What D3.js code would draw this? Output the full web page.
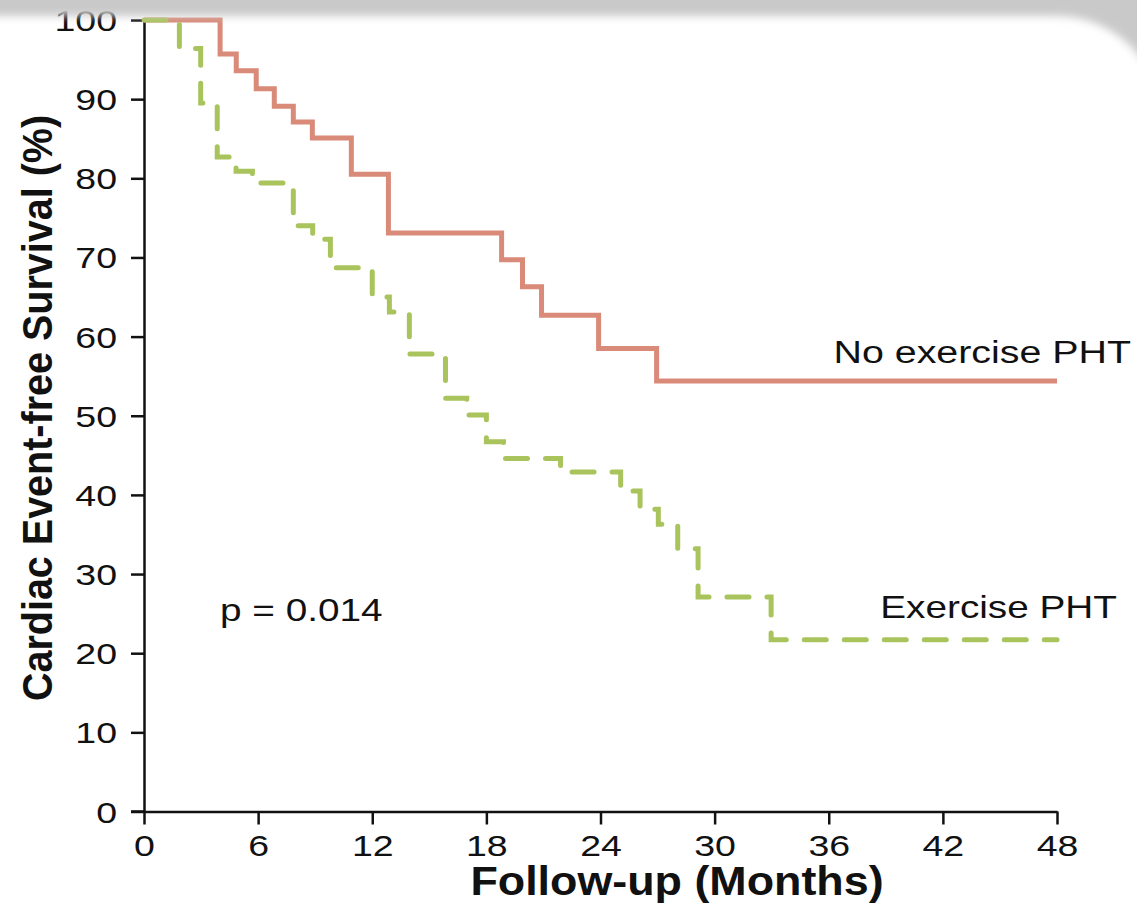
<!DOCTYPE html>
<html>
<head>
<meta charset="utf-8">
<script src="https://cdn.jsdelivr.net/npm/d3@7/dist/d3.min.js"></script>
<style>
  html, body { margin: 0; padding: 0; background: #fff; }
  svg { display: block; }
  text { font-family: "Liberation Sans", Arial, Helvetica, sans-serif; fill: #111; }
</style>
</head>
<body>
<svg id="chart" width="1137" height="903"></svg>
<script>
// Kaplan-Meier step data: follow-up month at which each step starts, and survival (%) from there on
const noExerciseTimes = [0, 4.0, 4.85, 5.9, 6.85, 7.85, 8.85, 10.9, 12.85, 18.8, 19.9, 20.9, 23.9, 26.95];
const noExerciseSurvival = [100, 95.7, 93.6, 91.3, 89.1, 87.1, 85.1, 80.5, 73.1, 69.7, 66.3, 62.7, 58.5, 54.4];
const exerciseTimes = [0, 1.86, 2.98, 3.85, 4.84, 5.7, 7.85, 8.87, 9.8, 12.0, 12.9, 13.95, 15.85, 16.97, 18.0, 18.9, 21.9, 25.06, 26.08, 27.04, 28.06, 29.13, 32.97];
const exerciseSurvival = [100, 96.4, 89.5, 82.7, 80.9, 79.4, 74.0, 72.3, 68.7, 65.0, 63.1, 57.8, 52.2, 50.1, 46.7, 44.6, 42.9, 40.5, 38.2, 36.3, 33.2, 27.1, 21.7];
const followUpEnd = 48;

const xTicks = [0, 6, 12, 18, 24, 30, 36, 42, 48];
const yTicks = [0, 10, 20, 30, 40, 50, 60, 70, 80, 90, 100];

const seriesLabels = ["No exercise PHT", "Exercise PHT"];
const pValueLabel = "p = 0.014";
const xTitle = "Follow-up (Months)";
const yTitle = "Cardiac Event-free Survival (%)";

const svg = d3.select("#chart");
const x = d3.scaleLinear().domain([0, 48]).range([144, 1057]);
const y = d3.scaleLinear().domain([0, 100]).range([811.5, 20]);

const STRETCH = 1.25;   // wide-set regular lettering
const BOLD_STRETCH = 1.08;

// Axes
const yAxis = svg.append("g")
  .attr("transform", `translate(${x(0)},0)`)
  .call(d3.axisLeft(y).tickValues(yTicks).tickSize(13).tickSizeOuter(0).tickFormat(d3.format("d")));
const xAxis = svg.append("g")
  .attr("transform", `translate(0,${y(0)})`)
  .call(d3.axisBottom(x).tickValues(xTicks).tickSize(13).tickSizeOuter(0).tickFormat(d3.format("d")));

[yAxis, xAxis].forEach(g => {
  g.select(".domain").attr("stroke", "#111").attr("stroke-width", 2.5);
  g.selectAll(".tick line").attr("stroke", "#111").attr("stroke-width", 2.5);
  g.selectAll(".tick text").attr("font-size", 30).attr("fill", "#111");
});
yAxis.selectAll(".tick text")
  .attr("x", null).attr("dy", null)
  .attr("transform", `translate(-27,10.5) scale(${STRETCH},1)`);
xAxis.selectAll(".tick text")
  .attr("y", null).attr("dy", null)
  .attr("transform", `translate(0,44) scale(${STRETCH},1)`);
// the x axis line reaches back to the 0 tick on the y axis
xAxis.append("line")
  .attr("x1", x(0) - 13).attr("x2", x(0))
  .attr("stroke", "#111").attr("stroke-width", 2.5);

// Survival step curves
const stepLine = d3.line()
  .x(d => x(d[0]))
  .y(d => y(d[1]))
  .curve(d3.curveStepAfter);

function steps(times, values) {
  const pts = times.map((t, i) => [t, values[i]]);
  pts.push([followUpEnd, values[values.length - 1]]);
  return pts;
}

svg.append("path")
  .datum(steps(noExerciseTimes, noExerciseSurvival))
  .attr("d", stepLine)
  .attr("fill", "none")
  .attr("stroke", "#DA8A78")
  .attr("stroke-width", 5)
  .attr("stroke-linejoin", "miter");

svg.append("path")
  .datum(steps(exerciseTimes, exerciseSurvival))
  .attr("d", stepLine)
  .attr("fill", "none")
  .attr("stroke", "#A9C45C")
  .attr("stroke-width", 5)
  .attr("stroke-linecap", "round")
  .attr("stroke-dasharray", "22 18");

// Annotations
function stretchedText(txt, px, py, size, anchor, sx, weight) {
  return svg.append("text")
    .attr("transform", `translate(${px},${py}) scale(${sx},1)`)
    .attr("font-size", size)
    .attr("font-weight", weight || "normal")
    .attr("text-anchor", anchor)
    .text(txt);
}
stretchedText(seriesLabels[0], 1131, 363, 31, "end", 1.27);
stretchedText(seriesLabels[1], 1117, 618, 30.5, "end", 1.27);
stretchedText(pValueLabel, 220, 621, 30.5, "start", 1.27);

// Axis titles
stretchedText(xTitle, 677, 895, 41.5, "middle", BOLD_STRETCH, "bold");
svg.append("text")
  .attr("transform", `translate(52,408) scale(1.08,1) rotate(-90)`)
  .attr("font-size", 39.5)
  .attr("font-weight", "bold")
  .attr("text-anchor", "middle")
  .text(yTitle);

// Grey frame band across the top with a rounded, soft-edged corner on the right
const defs = svg.append("defs");
defs.append("filter").attr("id", "soft")
  .attr("x", "-10%").attr("y", "-10%").attr("width", "120%").attr("height", "120%")
  .append("feGaussianBlur").attr("stdDeviation", 4);

const cornerR = 105, bandTop = 16, panelRight = 1162;
const band = `M-60,-60 H1240 V1000 H-60 Z ` +
  `M-40,${bandTop} H${panelRight - cornerR} A${cornerR},${cornerR} 0 0 1 ${panelRight},${bandTop + cornerR} V960 H-40 Z`;
svg.append("path")
  .attr("d", band)
  .attr("fill", "#c9c9c9")
  .attr("fill-rule", "evenodd")
  .attr("filter", "url(#soft)");
</script>
</body>
</html>
